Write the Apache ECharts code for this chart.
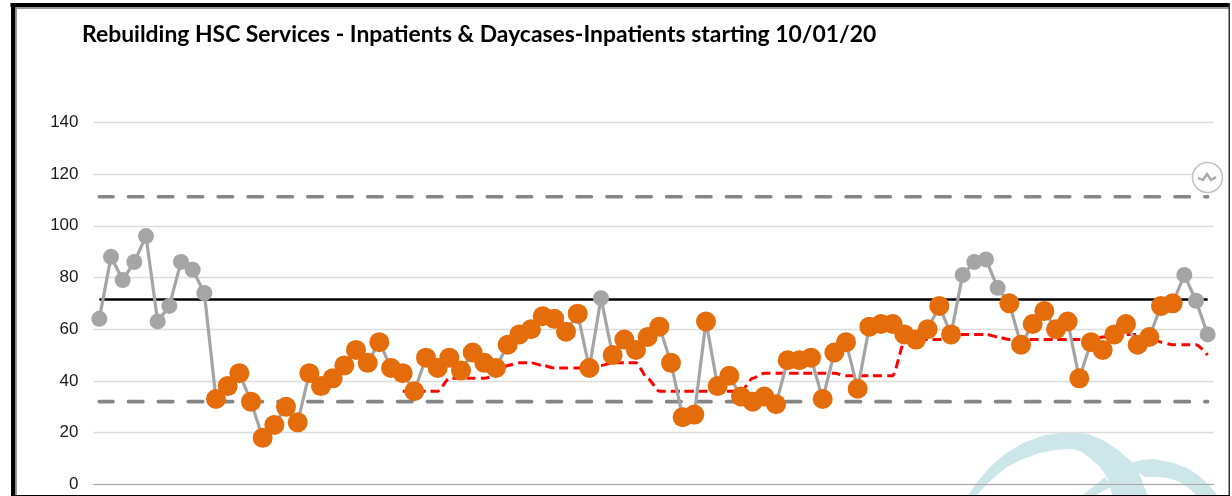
<!DOCTYPE html>
<html>
<head>
<meta charset="utf-8">
<style>
html, body { margin: 0; padding: 0; background: #fff; }
#main { width: 1232px; height: 496px; }
</style>
<script src="https://cdn.jsdelivr.net/npm/echarts@6/dist/echarts.min.js"></script>
</head>
<body>
<div id="main"></div>
<script>
var titleText = 'Rebuilding HSC Services - Inpatients & Daycases-Inpatients starting 10/01/20';
var yTicks = [0, 20, 40, 60, 80, 100, 120, 140];

var inpatients = [
    64, 88, 79, 86, 96, 63, 69, 86, 83, 74,
    33, 38, 43, 32, 18, 23, 30, 24, 43, 38,
    41, 46, 52, 47, 55, 45, 43, 36, 49, 45,
    49, 44, 51, 47, 45, 54, 58, 60, 65, 64,
    59, 66, 45, 72, 50, 56, 52, 57, 61, 47,
    26, 27, 63, 38, 42, 34, 32, 34, 31, 48,
    48, 49, 33, 51, 55, 37, 61, 62, 62, 58,
    56, 60, 69, 58, 81, 86, 87, 76, 70, 54,
    62, 67, 60, 63, 41, 55, 52, 58, 62, 54,
    57, 69, 70, 81, 71, 58
];
// points drawn grey, 1-based position in the run
var greyPoints = [1, 2, 3, 4, 5, 6, 7, 8, 9, 10, 44, 75, 76, 77, 78, 94, 95, 96];

var rolling = [
    null, null, null, null, null, null, null, null, null, null,
    null, null, null, null, null, null, null, null, null, null,
    null, null, null, null, null, null, 36, 36, 36, 36,
    41, 41, 41, 41, 42, 46, 47, 47, 46, 45,
    45, 45, 45, 46, 47, 47, 47, 41, 36, 36,
    36, 36, 36, 36, 36, 36, 41, 43, 43, 43,
    43, 43, 43, 43, 42, 42, 42, 42, 42, 55,
    56, 56, 56, 57, 58, 58, 58, 57, 56, 56,
    56, 56, 56, 56, 56, 56, 57, 57, 58, 58,
    57, 55, 54, 54, 54, 50
];
var meanValue = 71.5;
var upperValue = 111.2;
var lowerValue = 32;

var cats = inpatients.map(function(v, i) { return i + 1; });
function flat(v) { return inpatients.map(function() { return v; }); }

var chart = echarts.init(document.getElementById('main'), null, { renderer: 'canvas' });

var logoFill = '#cde6e9';
var limitLine = { color: '#868686', width: 3.6, type: [14.5, 15.4], dashOffset: 0.8, cap: 'round' };
var option = {
    backgroundColor: '#fff',
    animation: false,
    title: {
        text: titleText,
        left: 82,
        top: 23,
        padding: 0,
        textStyle: { fontFamily: 'Lato', fontWeight: 'bold', fontSize: 22.9, color: '#000' }
    },
    grid: { left: 93.5, right: 18.5, top: 122.3, bottom: 11.6 },
    xAxis: {
        type: 'category',
        data: cats,
        boundaryGap: true,
        axisLine: { show: true, lineStyle: { color: '#a6a6a6', width: 1.2 } },
        axisTick: { show: false },
        axisLabel: { show: false },
        splitLine: { show: false }
    },
    yAxis: {
        type: 'value',
        min: 0,
        max: 140,
        interval: 20,
        axisLine: { show: false },
        axisTick: { show: false },
        axisLabel: {
            color: '#1a1a1a',
            fontFamily: 'Liberation Sans',
            fontSize: 17,
            margin: 15,
            formatter: function(v) { return yTicks.indexOf(v) >= 0 ? String(v) : ''; }
        },
        splitLine: { show: true, lineStyle: { color: '#dcdcdc', width: 1.3 } }
    },
    series: [
        { name: 'upper', type: 'line', data: flat(upperValue), symbol: 'none', silent: true, z: 2, lineStyle: limitLine },
        { name: 'lower', type: 'line', data: flat(lowerValue), symbol: 'none', silent: true, z: 2, lineStyle: limitLine },
        {
            name: 'mean', type: 'line', data: flat(meanValue), symbol: 'none', silent: true, z: 3,
            lineStyle: { color: '#000', width: 2.6 }
        },
        {
            name: 'rolling', type: 'line', data: rolling, symbol: 'none', smooth: 0.25, smoothMonotone: 'x', silent: true, z: 4,
            connectNulls: false,
            lineStyle: { color: '#ff0000', width: 3, type: [9, 5] }
        },
        {
            name: 'inpatients', type: 'line', z: 5,
            data: inpatients.map(function(v, i) {
                var grey = greyPoints.indexOf(i + 1) >= 0;
                return {
                    value: v,
                    symbolSize: grey ? 16 : 20,
                    itemStyle: { color: grey ? '#a5a5a5' : '#e46c0a' }
                };
            }),
            symbol: 'circle',
            showAllSymbol: true,
            lineStyle: { color: '#a5a5a5', width: 3.2 }
        }
    ],
    graphic: [
        // watermark logo behind the plot
        { type: 'polygon', silent: true, z: -1, shape: { points: [[967, 497], [978, 481], [990, 467], [1005, 454], [1023, 443], [1045, 435], [1070, 432], [1088, 434], [1103, 440], [1118, 450], [1132, 462], [1140, 475], [1148, 497], [1113, 497], [1107, 477], [1099, 466], [1090, 458], [1082, 452], [1073, 449], [1056, 450], [1040, 453], [1023, 459], [1007, 467], [990, 481], [975, 497]] }, style: { fill: logoFill } },
        { type: 'polygon', silent: true, z: -1, shape: { points: [[1130, 463], [1141, 460], [1153, 459], [1170, 462], [1187, 468], [1198, 475], [1207, 483], [1219, 497], [1198, 497], [1190, 489], [1180, 482], [1168, 478], [1157, 477], [1145, 477], [1138, 472]] }, style: { fill: logoFill } },
        { type: 'polygon', silent: true, z: -1, shape: { points: [[1080, 497], [1105, 477], [1111, 487], [1092, 497]] }, style: { fill: logoFill } },
        // frame
        { type: 'rect', silent: true, z: 20, shape: { x: 10.5, y: 3, width: 1219, height: 4 }, style: { fill: '#000' } },
        { type: 'rect', silent: true, z: 20, shape: { x: 15, y: 7, width: 1214, height: 2 }, style: { fill: '#9a9a9a' } },
        { type: 'rect', silent: true, z: 20, shape: { x: 11, y: 3, width: 4.5, height: 493 }, style: { fill: '#000' } },
        { type: 'rect', silent: true, z: 20, shape: { x: 15.5, y: 7, width: 1.5, height: 489 }, style: { fill: '#9a9a9a' } },
        { type: 'rect', silent: true, z: 20, shape: { x: 1228.5, y: 3, width: 1.5, height: 493 }, style: { fill: '#333' } },
        { type: 'rect', silent: true, z: 20, shape: { x: 11, y: 495, width: 1219, height: 1 }, style: { fill: '#000' } },
        // sparkline badge
        { type: 'circle', silent: true, z: 21, shape: { cx: 1207.5, cy: 177.5, r: 15 }, style: { fill: '#fff', stroke: '#c4c4c4', lineWidth: 1.6 } },
        { type: 'polyline', silent: true, z: 22, shape: { points: [[1198, 178], [1203, 180], [1207, 174], [1211, 180], [1216, 177]] }, style: { fill: 'none', stroke: '#aaa', lineWidth: 2.4 } }
    ]
};
chart.setOption(option);
</script>
</body>
</html>
